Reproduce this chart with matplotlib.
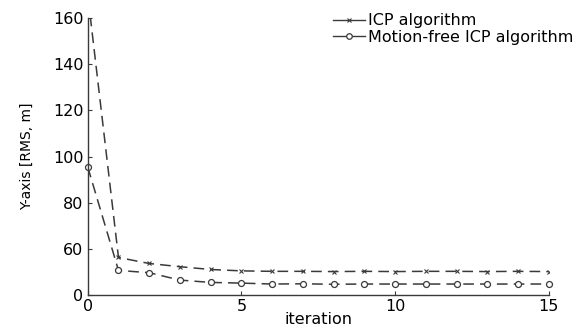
import numpy as np
import matplotlib.pyplot as plt
import matplotlib
from matplotlib.lines import Line2D

# values (y axis is broken: bottom labelled 0 is really 40)
iterations = list(range(16))
icp = [170, 56.3, 53.7, 52.3, 51.1, 50.5, 50.3, 50.3, 50.2, 50.3, 50.2, 50.3, 50.3, 50.2, 50.3, 50.2]
motion_free = [95.5, 50.7, 49.7, 46.5, 45.5, 45.2, 44.8, 44.9, 44.7, 44.8, 44.8, 44.8, 44.8, 44.8, 44.8, 44.8]
y_ticks = [40, 60, 80, 100, 120, 140, 160]
y_tick_labels = ['0', '60', '80', '100', '120', '140', '160']
x_ticks = [0, 5, 10, 15]

matplotlib.rcParams.update({'font.size': 11, 'font.family': 'DejaVu Sans'})
fig = plt.figure(figsize=(5.85, 3.29), dpi=100)
ax = fig.add_axes([0.150, 0.103, 0.788, 0.842])

col = '#3a3a3a'
ax.plot(iterations, icp, linestyle=(0, (7, 4)), color=col, lw=1.1,
        marker='x', markersize=2.5, markeredgewidth=0.8, clip_on=True)
ax.plot(iterations, motion_free, linestyle=(0, (7, 4)), color=col, lw=1.1,
        marker='o', markersize=4.3, markerfacecolor='white', markeredgewidth=0.9,
        clip_on=False)

ax.set_xlim(0, 15)
ax.set_ylim(40, 160)
ax.set_xticks(x_ticks)
ax.set_yticks(y_ticks)
ax.set_yticklabels(y_tick_labels)
ax.tick_params(direction='in', length=3, color=col, labelsize=11.5, pad=3)
ax.spines['top'].set_visible(False)
ax.spines['right'].set_visible(False)
for s in ['left', 'bottom']:
    ax.spines[s].set_color(col)
    ax.spines[s].set_linewidth(1.0)

ax.set_xlabel('iteration', fontsize=11.5, labelpad=-2)
ax.set_ylabel('Y-axis [RMS, m]', fontsize=10, labelpad=14)

handles = [
    Line2D([], [], color=col, lw=1.0, marker='x', markersize=2.5, markeredgewidth=0.8),
    Line2D([], [], color=col, lw=1.0, marker='o', markersize=4, markerfacecolor='white',
           markeredgewidth=0.9),
]
ax.legend(handles, ['ICP algorithm', 'Motion-free ICP algorithm'], loc='upper right',
          frameon=False, fontsize=11.5, handlelength=2.0, handletextpad=0.2,
          labelspacing=0.1, borderaxespad=0.0, bbox_to_anchor=(1.068, 1.04))

plt.savefig('out.png', dpi=100)
